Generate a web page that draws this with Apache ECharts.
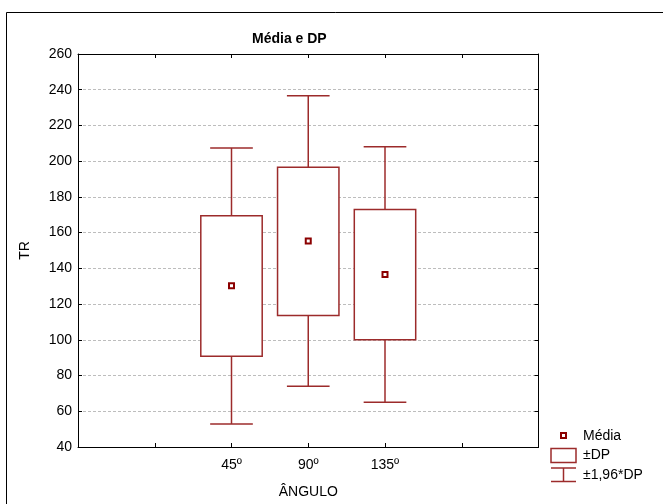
<!DOCTYPE html>
<html>
<head>
<meta charset="utf-8">
<script src="https://cdn.jsdelivr.net/npm/echarts@6/dist/echarts.min.js"></script>
<style>
  html, body { margin: 0; padding: 0; background: #fff; }
  #chart { width: 663px; height: 504px; }
</style>
</head>
<body>
<div id="chart"></div>
<script>
// Group labels and statistics of TR by angle
const categories = ['45º', '90º', '135º'];
const means      = [130.2, 155.3, 136.5];
const sdLow      = [90.8, 113.6, 100.1];
const sdHigh     = [169.5, 196.6, 173.0];
const ciLow      = [52.9, 74.0, 65.0];
const ciHigh     = [207.4, 236.6, 208.1];
const yTicks     = [40, 60, 80, 100, 120, 140, 160, 180, 200, 220, 240, 260];

const RED = '#9c2b2b';
const DARK_RED = '#8b0000';
const FONT = 'Liberation Sans, Arial, sans-serif';
const FS = 14;

// two empty slots on each side of the groups
const axisData = ['', ''].concat(categories, ['', '']);

const seriesData = categories.map((c, i) => [c, ciLow[i], sdLow[i], means[i], sdHigh[i], ciHigh[i]]);

function renderItem(params, api) {
  const band = api.size([1, 0])[0];
  const boxW = band * 0.8;
  const capW = band * 0.556;
  const x = api.coord([api.value(0), 0])[0];
  const yCiLow = api.coord([api.value(0), api.value(1)])[1];
  const ySdLow = api.coord([api.value(0), api.value(2)])[1];
  const yMean = api.coord([api.value(0), api.value(3)])[1];
  const ySdHigh = api.coord([api.value(0), api.value(4)])[1];
  const yCiHigh = api.coord([api.value(0), api.value(5)])[1];
  const line = { stroke: RED, lineWidth: 1.5, fill: null };
  return {
    type: 'group',
    children: [
      { type: 'line', shape: { x1: x, y1: ySdHigh, x2: x, y2: yCiHigh }, style: line },
      { type: 'line', shape: { x1: x, y1: ySdLow, x2: x, y2: yCiLow }, style: line },
      { type: 'line', shape: { x1: x - capW / 2, y1: yCiHigh, x2: x + capW / 2, y2: yCiHigh }, style: line },
      { type: 'line', shape: { x1: x - capW / 2, y1: yCiLow, x2: x + capW / 2, y2: yCiLow }, style: line },
      { type: 'rect', shape: { x: x - boxW / 2, y: ySdHigh, width: boxW, height: ySdLow - ySdHigh },
        style: { stroke: RED, lineWidth: 1.5, fill: '#fff' } },
      { type: 'rect', shape: { x: x - 2.5, y: yMean - 2.5, width: 5, height: 5 },
        style: { stroke: DARK_RED, lineWidth: 2, fill: '#fff' } }
    ]
  };
}

const chart = echarts.init(document.getElementById('chart'), null, { renderer: 'canvas' });

const xBase = {
  type: 'category',
  data: axisData,
  boundaryGap: false,
  axisLine: { lineStyle: { color: '#000', width: 1 } },
  axisTick: { show: true, inside: true, length: 4, interval: 0, lineStyle: { color: '#000' } },
  splitLine: { show: false }
};
const yBase = {
  type: 'value',
  min: yTicks[0],
  max: yTicks[yTicks.length - 1],
  interval: yTicks[1] - yTicks[0],
  axisLine: { show: true, lineStyle: { color: '#000', width: 1 } },
  axisTick: { show: true, inside: true, length: 4, lineStyle: { color: '#000' } }
};

chart.setOption({
  animation: false,
  backgroundColor: '#fff',
  textStyle: { fontFamily: FONT },
  title: {
    text: 'Média e DP',
    left: 247,
    top: 27,
    textStyle: { fontSize: FS, fontWeight: 'bold', color: '#000', fontFamily: FONT }
  },
  grid: { left: 78, right: 124.5, top: 54, bottom: 56 },
  xAxis: [
    Object.assign({}, xBase, {
      position: 'bottom',
      name: 'ÂNGULO',
      nameLocation: 'middle',
      nameGap: 38,
      nameTextStyle: { fontSize: FS, color: '#000', fontFamily: FONT },
      axisLabel: { show: true, interval: 0, fontSize: FS, color: '#000', margin: 11, fontFamily: FONT }
    }),
    Object.assign({}, xBase, { position: 'top', axisLabel: { show: false } })
  ],
  yAxis: [
    Object.assign({}, yBase, {
      position: 'left',
      name: 'TR',
      nameLocation: 'middle',
      nameRotate: 90,
      nameGap: 46,
      nameTextStyle: { fontSize: FS, color: '#000', fontFamily: FONT },
      axisLabel: { show: true, fontSize: FS, color: '#000', margin: 6, fontFamily: FONT },
      splitLine: { show: true, lineStyle: { color: '#bdbdbd', type: [3, 2], width: 1 } }
    }),
    Object.assign({}, yBase, { position: 'right', axisLabel: { show: false }, splitLine: { show: false } })
  ],
  series: [{
    type: 'custom',
    renderItem: renderItem,
    xAxisIndex: 0,
    yAxisIndex: 0,
    encode: { x: 0, y: [1, 2, 3, 4, 5] },
    data: seriesData,
    z: 5
  }],
  graphic: [
    // outer frame
    { type: 'rect', shape: { x: 6.5, y: 12.5, width: 700, height: 600 },
      style: { stroke: '#000', lineWidth: 1, fill: null }, silent: true },
    // legend: mean
    { type: 'rect', shape: { x: 561, y: 433, width: 5, height: 5 },
      style: { stroke: DARK_RED, lineWidth: 2, fill: '#fff' } },
    { type: 'text', x: 583, y: 436,
      style: { text: 'Média', font: FS + 'px ' + FONT, fill: '#000', textVerticalAlign: 'middle' } },
    // legend: ±DP
    { type: 'rect', shape: { x: 551, y: 448.5, width: 25, height: 14 },
      style: { stroke: RED, lineWidth: 1.5, fill: '#fff' } },
    { type: 'text', x: 583, y: 455.5,
      style: { text: '±DP', font: FS + 'px ' + FONT, fill: '#000', textVerticalAlign: 'middle' } },
    // legend: ±1,96*DP
    { type: 'line', shape: { x1: 551, y1: 468, x2: 576, y2: 468 }, style: { stroke: RED, lineWidth: 1.5 } },
    { type: 'line', shape: { x1: 551, y1: 481.5, x2: 576, y2: 481.5 }, style: { stroke: RED, lineWidth: 1.5 } },
    { type: 'line', shape: { x1: 563.5, y1: 468, x2: 563.5, y2: 481.5 }, style: { stroke: RED, lineWidth: 1.5 } },
    { type: 'text', x: 583, y: 475,
      style: { text: '±1,96*DP', font: FS + 'px ' + FONT, fill: '#000', textVerticalAlign: 'middle' } }
  ]
});
</script>
</body>
</html>
